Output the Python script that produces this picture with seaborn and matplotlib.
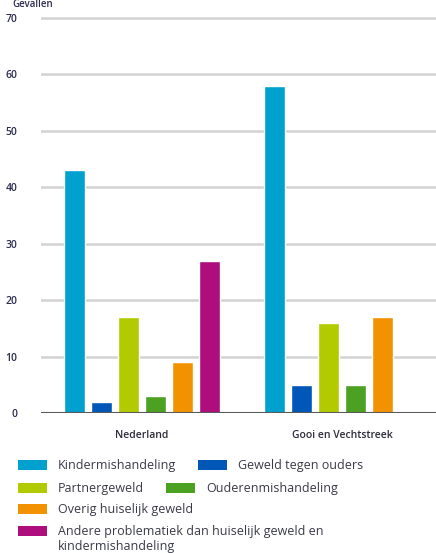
import matplotlib
matplotlib.use("Agg")
import matplotlib.pyplot as plt
import seaborn as sns
import pandas as pd
import numpy as np
from matplotlib.patches import Patch

regions = ["Nederland", "Gooi en Vechtstreek"]
categories = ["Kindermishandeling", "Geweld tegen ouders", "Partnergeweld",
              "Ouderenmishandeling", "Overig huiselijk geweld",
              "Andere problematiek dan huiselijk geweld en kindermishandeling"]
legend_lines = [[c] for c in categories[:5]] + [
    ["Andere problematiek dan huiselijk geweld en", "kindermishandeling"]]
nederland = [43, 2, 17, 3, 9, 27]
gooi = [58, 5, 16, 5, 17, np.nan]
colors = ["#00A0CF", "#0057B8", "#B2CB00", "#4CA123", "#F39200", "#AD0E7B"]
yticks = [0, 10, 20, 30, 40, 50, 60, 70]
ylabel_text = "Gevallen"

rows = []
for reg, vals in zip(regions, [nederland, gooi]):
    for cat, v in zip(categories, vals):
        rows.append({"regio": reg, "categorie": cat, "waarde": v})
df = pd.DataFrame(rows)

sns.set_style("white")
plt.rcParams["font.family"] = ["Open Sans", "DejaVu Sans"]

W, H = 436, 553
fig = plt.figure(figsize=(W / 100, H / 100), dpi=100)
left, right, y0, ytop = 41, 436, 413, 18
ymax = 70.6
ppu = (y0 - ytop) / 70
ax = fig.add_axes([left / W, (H - y0) / H, (right - left) / W, ymax * ppu / H])

sns.barplot(data=df, x="regio", y="waarde", hue="categorie", order=regions,
            hue_order=categories, palette=colors, width=0.81, gap=0.21,
            edgecolor="white", linewidth=1.0, saturation=1, ax=ax,
            legend=False, zorder=3)

ax.set_xlim(-0.505, 1.47)
ax.set_ylim(0, ymax)
ax.set_yticks(yticks)
for t in yticks[1:]:
    ax.axhline(t, color="#d2d2d2", lw=1.8, zorder=1)
ax.axhline(0, color="#5a5a5a", lw=1.5, zorder=4)
for s in ax.spines.values():
    s.set_visible(False)
ax.set_xlabel("")
ax.set_ylabel("")
ax.tick_params(axis="y", length=0, pad=17, labelsize=7.5, labelcolor="#2b2b50")
ax.tick_params(axis="x", length=0, pad=12, labelsize=7.5, labelcolor="#2b2b3b")
for lab in ax.get_yticklabels() + ax.get_xticklabels():
    lab.set_fontweight("semibold")

fig.text(12 / W, 1 - 7 / H, ylabel_text, fontsize=7, color="#2b2b50",
         va="baseline", ha="left", fontweight="semibold")

handles = [Patch(facecolor=c, edgecolor="none") for c in colors]
row_groups = [[0, 1], [2, 3], [4], [5]]
row_centers = [468.5, 491, 512.5, 534.5]
fs = 9
txtcolor = "#3a3a48"
legends = []
for grp, yc in zip(row_groups, row_centers):
    leg = fig.legend([handles[i] for i in grp], [legend_lines[i][0] for i in grp],
                     ncol=len(grp), loc="upper left",
                     bbox_to_anchor=(18 / W, 1 - (yc - 9) / H),
                     frameon=False, fontsize=fs, borderpad=0, borderaxespad=0,
                     handlelength=2.32, handleheight=0.88, handletextpad=0.85,
                     columnspacing=1.8, labelcolor=txtcolor)
    legends.append(leg)

fig.canvas.draw()
last = legends[-1].get_texts()[0]
bb = last.get_window_extent(renderer=fig.canvas.get_renderer())
fig.text(bb.x0 / W, 3.2 / H, legend_lines[5][1], fontsize=fs, color=txtcolor,
         ha="left", va="baseline")

fig.savefig("out.png", dpi=100)
